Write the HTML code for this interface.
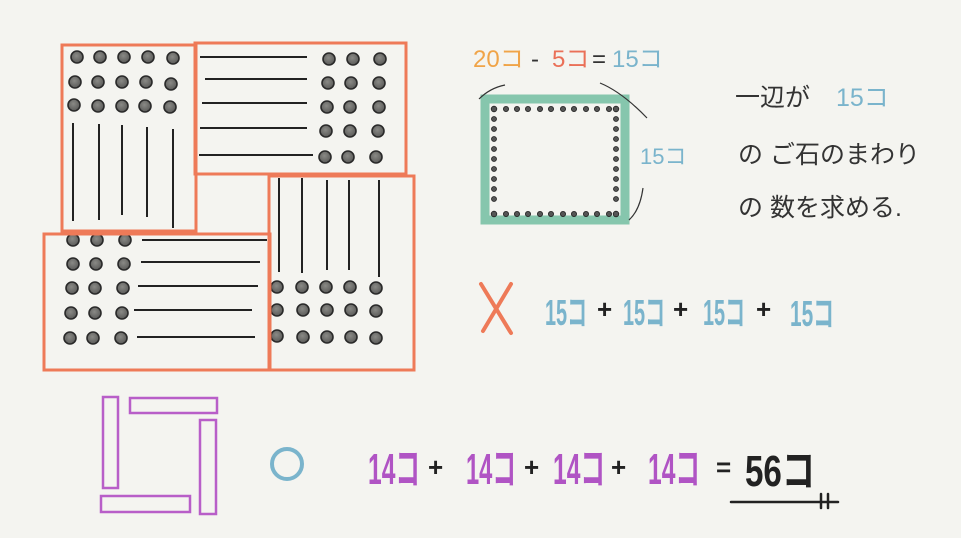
<!DOCTYPE html>
<html><head><meta charset="utf-8"><style>
html,body{margin:0;padding:0;background:#f4f4f0;}
svg{display:block}
text{font-family:"Liberation Sans","Noto Sans CJK JP",sans-serif;}
</style></head><body>
<svg width="961" height="538" viewBox="0 0 961 538" xmlns="http://www.w3.org/2000/svg">
<rect width="961" height="538" fill="#f4f4f0"/>
<defs>
<radialGradient id="g" cx="0.45" cy="0.4" r="0.6"><stop offset="0" stop-color="#8a8a86"/><stop offset="1" stop-color="#5a5a58"/></radialGradient>
</defs>
<g fill="url(#g)" stroke="#2a2a2a" stroke-width="1.6">
<!-- Box A dots -->
<circle cx="77" cy="57" r="6"/><circle cx="100" cy="57" r="6"/><circle cx="124" cy="57" r="6"/><circle cx="148" cy="57" r="6"/><circle cx="173" cy="58" r="6"/>
<circle cx="75" cy="82" r="6"/><circle cx="98" cy="82" r="6"/><circle cx="122" cy="82" r="6"/><circle cx="146" cy="82" r="6"/><circle cx="171" cy="84" r="6"/>
<circle cx="74" cy="105" r="6"/><circle cx="98" cy="106" r="6"/><circle cx="122" cy="106" r="6"/><circle cx="145" cy="106" r="6"/><circle cx="170" cy="107" r="6"/>
<!-- Box B dots -->
<circle cx="329" cy="59" r="6"/><circle cx="353" cy="59" r="6"/><circle cx="380" cy="59" r="6"/>
<circle cx="328" cy="83" r="6"/><circle cx="351" cy="83" r="6"/><circle cx="379" cy="83" r="6"/>
<circle cx="327" cy="107" r="6"/><circle cx="350" cy="107" r="6"/><circle cx="379" cy="107" r="6"/>
<circle cx="326" cy="131" r="6"/><circle cx="350" cy="131" r="6"/><circle cx="378" cy="131" r="6"/>
<circle cx="325" cy="157" r="6"/><circle cx="348" cy="157" r="6"/><circle cx="376" cy="157" r="6"/>
<!-- Box C dots -->
<circle cx="73" cy="240" r="6"/><circle cx="97" cy="240" r="6"/><circle cx="125" cy="240" r="6"/>
<circle cx="73" cy="264" r="6"/><circle cx="96" cy="264" r="6"/><circle cx="124" cy="264" r="6"/>
<circle cx="72" cy="288" r="6"/><circle cx="95" cy="288" r="6"/><circle cx="123" cy="288" r="6"/>
<circle cx="71" cy="313" r="6"/><circle cx="95" cy="313" r="6"/><circle cx="122" cy="313" r="6"/>
<circle cx="70" cy="338" r="6"/><circle cx="93" cy="338" r="6"/><circle cx="121" cy="338" r="6"/>
<!-- Box D dots -->
<circle cx="277" cy="287" r="6"/><circle cx="302" cy="287" r="6"/><circle cx="326" cy="287" r="6"/><circle cx="350" cy="287" r="6"/><circle cx="376" cy="288" r="6"/>
<circle cx="277" cy="310" r="6"/><circle cx="303" cy="310" r="6"/><circle cx="327" cy="310" r="6"/><circle cx="351" cy="310" r="6"/><circle cx="376" cy="311" r="6"/>
<circle cx="277" cy="336" r="6"/><circle cx="303" cy="337" r="6"/><circle cx="327" cy="337" r="6"/><circle cx="351" cy="337" r="6"/><circle cx="376" cy="338" r="6"/>
</g>
<g stroke="#222" stroke-width="2" fill="none">
<line x1="73" y1="123" x2="73" y2="221"/><line x1="99" y1="124" x2="99" y2="220"/><line x1="122" y1="125" x2="122" y2="215"/><line x1="147" y1="127" x2="147" y2="217"/><line x1="173" y1="129" x2="173" y2="228"/>
<line x1="200" y1="57" x2="307" y2="57"/><line x1="205" y1="79" x2="307" y2="79"/><line x1="202" y1="103" x2="307" y2="103"/><line x1="200" y1="128" x2="307" y2="128"/><line x1="199" y1="155" x2="313" y2="155"/>
<line x1="142" y1="240" x2="267" y2="240"/><line x1="141" y1="262" x2="260" y2="262"/><line x1="138" y1="286" x2="258" y2="286"/><line x1="134" y1="310" x2="252" y2="310"/><line x1="137" y1="337" x2="255" y2="337"/>
<line x1="279" y1="178" x2="279" y2="272"/><line x1="302" y1="178" x2="302" y2="273"/><line x1="327" y1="180" x2="327" y2="270"/><line x1="349" y1="180" x2="349" y2="270"/><line x1="379" y1="180" x2="379" y2="277"/>
</g>
<g stroke="#ee7a58" stroke-width="3" fill="none">
<rect x="62" y="45" width="134" height="186"/>
<rect x="195" y="43" width="211" height="131"/>
<rect x="44" y="234" width="226" height="136"/>
<rect x="269" y="176" width="145" height="194"/>
</g>
<!-- top right -->
<text x="473" y="67" font-size="24" fill="#f0a448">20コ</text>
<text x="531" y="67" font-size="24" fill="#333">-</text>
<text x="552" y="67" font-size="24" fill="#ea7058">5コ</text>
<text x="592" y="67" font-size="24" fill="#333">=</text>
<text x="612" y="67" font-size="24" fill="#7ab4cc">15コ</text>
<rect x="485" y="99" width="140" height="121" fill="none" stroke="#86c6ad" stroke-width="9"/>
<g fill="#555" stroke="#222" stroke-width="0.8">
<g id="trow">
<circle cx="494" cy="109" r="2.8"/><circle cx="506" cy="109" r="2.6"/><circle cx="517" cy="109" r="2.6"/><circle cx="528" cy="109" r="2.6"/><circle cx="540" cy="109" r="2.6"/><circle cx="551" cy="109" r="2.6"/><circle cx="563" cy="109" r="2.6"/><circle cx="574" cy="109" r="2.6"/><circle cx="586" cy="109" r="2.6"/><circle cx="597" cy="109" r="2.6"/><circle cx="609" cy="109" r="2.6"/><circle cx="616" cy="109" r="2.8"/>
</g>
<use href="#trow" y="105"/>
<circle cx="494" cy="119" r="2.5"/><circle cx="494" cy="129" r="2.5"/><circle cx="494" cy="139" r="2.5"/><circle cx="494" cy="149" r="2.5"/><circle cx="494" cy="159" r="2.5"/><circle cx="494" cy="169" r="2.5"/><circle cx="494" cy="179" r="2.5"/><circle cx="494" cy="189" r="2.5"/><circle cx="494" cy="199" r="2.5"/>
<circle cx="616" cy="119" r="2.5"/><circle cx="616" cy="129" r="2.5"/><circle cx="616" cy="139" r="2.5"/><circle cx="616" cy="149" r="2.5"/><circle cx="616" cy="159" r="2.5"/><circle cx="616" cy="169" r="2.5"/><circle cx="616" cy="179" r="2.5"/><circle cx="616" cy="189" r="2.5"/><circle cx="616" cy="199" r="2.5"/>
</g>
<g stroke="#333" stroke-width="1.2" fill="none">
<path d="M479 99 Q490 88 505 85"/><path d="M600 83 Q622 92 647 118"/><path d="M643 188 Q640 210 629 220"/>
</g>
<text x="640" y="164" font-size="22" fill="#7ab4cc">15コ</text>
<text x="735" y="106" font-size="25" fill="#333">一辺が</text>
<text x="836" y="106" font-size="25" fill="#7ab4cc">15コ</text>
<text x="738" y="163" font-size="25" fill="#333">の ご石のまわり</text>
<text x="738" y="216" font-size="25" fill="#333">の 数を求める.</text>
<!-- middle -->
<g stroke="#ee7a58" stroke-width="4" stroke-linecap="round"><line x1="481" y1="284" x2="511" y2="333"/><line x1="511" y1="284" x2="483" y2="331"/></g>
<g font-size="36" font-weight="bold" fill="#7ab4cc">
<text x="545" y="325" textLength="42" lengthAdjust="spacingAndGlyphs">15コ</text>
<text x="623" y="325" textLength="42" lengthAdjust="spacingAndGlyphs">15コ</text>
<text x="703" y="325" textLength="42" lengthAdjust="spacingAndGlyphs">15コ</text>
<text x="790" y="326" textLength="44" lengthAdjust="spacingAndGlyphs">15コ</text>
</g>
<g font-size="26" font-weight="bold" fill="#222"><text x="597" y="318">+</text><text x="673" y="318">+</text><text x="756" y="318">+</text></g>
<!-- bottom -->
<g fill="none" stroke="#b85ec8" stroke-width="2.5">
<rect x="103" y="397" width="15" height="91"/><rect x="130" y="398" width="87" height="15"/><rect x="200" y="420" width="16" height="94"/><rect x="101" y="496" width="89" height="16"/>
</g>
<circle cx="287" cy="464" r="15" fill="none" stroke="#7ab4cc" stroke-width="4"/>
<g font-size="44" font-weight="bold" fill="#b054c4">
<text x="368" y="484" textLength="52" lengthAdjust="spacingAndGlyphs">14コ</text>
<text x="466" y="484" textLength="50" lengthAdjust="spacingAndGlyphs">14コ</text>
<text x="553" y="484" textLength="52" lengthAdjust="spacingAndGlyphs">14コ</text>
<text x="648" y="484" textLength="52" lengthAdjust="spacingAndGlyphs">14コ</text>
</g>
<g font-size="26" font-weight="bold" fill="#222"><text x="428" y="476">+</text><text x="524" y="476">+</text><text x="611" y="476">+</text><text x="716" y="476">=</text></g>
<text x="745" y="486" font-size="44" font-weight="bold" fill="#222" textLength="70" lengthAdjust="spacingAndGlyphs">56コ</text>
<g stroke="#222" stroke-width="2.5" stroke-linecap="round"><line x1="731" y1="502" x2="838" y2="502"/><line x1="821" y1="494" x2="821" y2="508"/><line x1="828" y1="494" x2="828" y2="508"/></g>
</svg>
</body></html>
